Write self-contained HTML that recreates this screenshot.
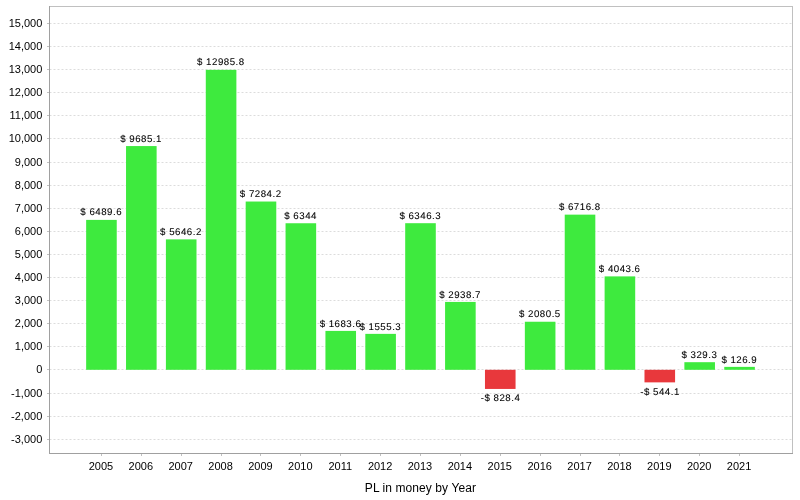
<!DOCTYPE html>
<html><head><meta charset="utf-8"><style>
html,body{margin:0;padding:0;background:#fff;width:800px;height:500px;overflow:hidden;position:relative}
text{font-family:"Liberation Sans",sans-serif;fill:#000}
.t11{font-size:11px;letter-spacing:0.0px}
.t10{font-size:9.7px;text-rendering:geometricPrecision;stroke:#000;stroke-width:0.08px;letter-spacing:0.5px}
.t12{font-size:12px;letter-spacing:0.08px}
</style></head><body>
<svg width="800" height="500" viewBox="0 0 800 500" style="position:absolute;left:0;top:0;will-change:transform">
<rect x="0" y="0" width="800" height="500" fill="#fff"/>
<line x1="49.5" y1="439.5" x2="792.0" y2="439.5" stroke="#dcdcdc" stroke-width="1" stroke-dasharray="2,2"/>
<line x1="49.5" y1="416.5" x2="792.0" y2="416.5" stroke="#dcdcdc" stroke-width="1" stroke-dasharray="2,2"/>
<line x1="49.5" y1="393.5" x2="792.0" y2="393.5" stroke="#dcdcdc" stroke-width="1" stroke-dasharray="2,2"/>
<line x1="49.5" y1="369.5" x2="792.0" y2="369.5" stroke="#dcdcdc" stroke-width="1" stroke-dasharray="2,2"/>
<line x1="49.5" y1="346.5" x2="792.0" y2="346.5" stroke="#dcdcdc" stroke-width="1" stroke-dasharray="2,2"/>
<line x1="49.5" y1="323.5" x2="792.0" y2="323.5" stroke="#dcdcdc" stroke-width="1" stroke-dasharray="2,2"/>
<line x1="49.5" y1="300.5" x2="792.0" y2="300.5" stroke="#dcdcdc" stroke-width="1" stroke-dasharray="2,2"/>
<line x1="49.5" y1="277.5" x2="792.0" y2="277.5" stroke="#dcdcdc" stroke-width="1" stroke-dasharray="2,2"/>
<line x1="49.5" y1="254.5" x2="792.0" y2="254.5" stroke="#dcdcdc" stroke-width="1" stroke-dasharray="2,2"/>
<line x1="49.5" y1="231.5" x2="792.0" y2="231.5" stroke="#dcdcdc" stroke-width="1" stroke-dasharray="2,2"/>
<line x1="49.5" y1="208.5" x2="792.0" y2="208.5" stroke="#dcdcdc" stroke-width="1" stroke-dasharray="2,2"/>
<line x1="49.5" y1="185.5" x2="792.0" y2="185.5" stroke="#dcdcdc" stroke-width="1" stroke-dasharray="2,2"/>
<line x1="49.5" y1="162.5" x2="792.0" y2="162.5" stroke="#dcdcdc" stroke-width="1" stroke-dasharray="2,2"/>
<line x1="49.5" y1="138.5" x2="792.0" y2="138.5" stroke="#dcdcdc" stroke-width="1" stroke-dasharray="2,2"/>
<line x1="49.5" y1="115.5" x2="792.0" y2="115.5" stroke="#dcdcdc" stroke-width="1" stroke-dasharray="2,2"/>
<line x1="49.5" y1="92.5" x2="792.0" y2="92.5" stroke="#dcdcdc" stroke-width="1" stroke-dasharray="2,2"/>
<line x1="49.5" y1="69.5" x2="792.0" y2="69.5" stroke="#dcdcdc" stroke-width="1" stroke-dasharray="2,2"/>
<line x1="49.5" y1="46.5" x2="792.0" y2="46.5" stroke="#dcdcdc" stroke-width="1" stroke-dasharray="2,2"/>
<line x1="49.5" y1="23.5" x2="792.0" y2="23.5" stroke="#dcdcdc" stroke-width="1" stroke-dasharray="2,2"/>
<rect x="86.15" y="219.89" width="30.59" height="149.91" fill="rgb(62,234,62)"/>
<rect x="126.03" y="146.07" width="30.59" height="223.73" fill="rgb(62,234,62)"/>
<rect x="165.91" y="239.37" width="30.59" height="130.43" fill="rgb(62,234,62)"/>
<rect x="205.79" y="69.83" width="30.59" height="299.97" fill="rgb(62,234,62)"/>
<rect x="245.68" y="201.53" width="30.59" height="168.27" fill="rgb(62,234,62)"/>
<rect x="285.56" y="223.25" width="30.59" height="146.55" fill="rgb(62,234,62)"/>
<rect x="325.44" y="330.91" width="30.59" height="38.89" fill="rgb(62,234,62)"/>
<rect x="365.32" y="333.87" width="30.59" height="35.93" fill="rgb(62,234,62)"/>
<rect x="405.20" y="223.20" width="30.59" height="146.60" fill="rgb(62,234,62)"/>
<rect x="445.08" y="301.92" width="30.59" height="67.88" fill="rgb(62,234,62)"/>
<rect x="484.97" y="369.80" width="30.59" height="19.14" fill="rgb(232,56,60)"/>
<rect x="524.85" y="321.74" width="30.59" height="48.06" fill="rgb(62,234,62)"/>
<rect x="564.73" y="214.64" width="30.59" height="155.16" fill="rgb(62,234,62)"/>
<rect x="604.61" y="276.39" width="30.59" height="93.41" fill="rgb(62,234,62)"/>
<rect x="644.49" y="369.80" width="30.59" height="12.57" fill="rgb(232,56,60)"/>
<rect x="684.37" y="362.19" width="30.59" height="7.61" fill="rgb(62,234,62)"/>
<rect x="724.26" y="366.87" width="30.59" height="2.93" fill="rgb(62,234,62)"/>
<rect x="49.5" y="6.5" width="743.0" height="447" fill="none" stroke="#c0c0c0" stroke-width="1"/>
<line x1="49.5" y1="6" x2="49.5" y2="454" stroke="#a0a0a0" stroke-width="1"/>
<line x1="49" y1="453.5" x2="793" y2="453.5" stroke="#a0a0a0" stroke-width="1"/>
<line x1="47" y1="439.5" x2="49" y2="439.5" stroke="#c0c0c0" stroke-width="1"/>
<text x="42.3" y="442.8" text-anchor="end" class="t11">-3,000</text>
<line x1="47" y1="416.5" x2="49" y2="416.5" stroke="#c0c0c0" stroke-width="1"/>
<text x="42.3" y="419.8" text-anchor="end" class="t11">-2,000</text>
<line x1="47" y1="393.5" x2="49" y2="393.5" stroke="#c0c0c0" stroke-width="1"/>
<text x="42.3" y="396.8" text-anchor="end" class="t11">-1,000</text>
<line x1="47" y1="369.5" x2="49" y2="369.5" stroke="#c0c0c0" stroke-width="1"/>
<text x="42.3" y="372.8" text-anchor="end" class="t11">0</text>
<line x1="47" y1="346.5" x2="49" y2="346.5" stroke="#c0c0c0" stroke-width="1"/>
<text x="42.3" y="349.8" text-anchor="end" class="t11">1,000</text>
<line x1="47" y1="323.5" x2="49" y2="323.5" stroke="#c0c0c0" stroke-width="1"/>
<text x="42.3" y="326.8" text-anchor="end" class="t11">2,000</text>
<line x1="47" y1="300.5" x2="49" y2="300.5" stroke="#c0c0c0" stroke-width="1"/>
<text x="42.3" y="303.8" text-anchor="end" class="t11">3,000</text>
<line x1="47" y1="277.5" x2="49" y2="277.5" stroke="#c0c0c0" stroke-width="1"/>
<text x="42.3" y="280.8" text-anchor="end" class="t11">4,000</text>
<line x1="47" y1="254.5" x2="49" y2="254.5" stroke="#c0c0c0" stroke-width="1"/>
<text x="42.3" y="257.8" text-anchor="end" class="t11">5,000</text>
<line x1="47" y1="231.5" x2="49" y2="231.5" stroke="#c0c0c0" stroke-width="1"/>
<text x="42.3" y="234.8" text-anchor="end" class="t11">6,000</text>
<line x1="47" y1="208.5" x2="49" y2="208.5" stroke="#c0c0c0" stroke-width="1"/>
<text x="42.3" y="211.8" text-anchor="end" class="t11">7,000</text>
<line x1="47" y1="185.5" x2="49" y2="185.5" stroke="#c0c0c0" stroke-width="1"/>
<text x="42.3" y="188.8" text-anchor="end" class="t11">8,000</text>
<line x1="47" y1="162.5" x2="49" y2="162.5" stroke="#c0c0c0" stroke-width="1"/>
<text x="42.3" y="165.8" text-anchor="end" class="t11">9,000</text>
<line x1="47" y1="138.5" x2="49" y2="138.5" stroke="#c0c0c0" stroke-width="1"/>
<text x="42.3" y="141.8" text-anchor="end" class="t11">10,000</text>
<line x1="47" y1="115.5" x2="49" y2="115.5" stroke="#c0c0c0" stroke-width="1"/>
<text x="42.3" y="118.8" text-anchor="end" class="t11">11,000</text>
<line x1="47" y1="92.5" x2="49" y2="92.5" stroke="#c0c0c0" stroke-width="1"/>
<text x="42.3" y="95.8" text-anchor="end" class="t11">12,000</text>
<line x1="47" y1="69.5" x2="49" y2="69.5" stroke="#c0c0c0" stroke-width="1"/>
<text x="42.3" y="72.8" text-anchor="end" class="t11">13,000</text>
<line x1="47" y1="46.5" x2="49" y2="46.5" stroke="#c0c0c0" stroke-width="1"/>
<text x="42.3" y="49.8" text-anchor="end" class="t11">14,000</text>
<line x1="47" y1="23.5" x2="49" y2="23.5" stroke="#c0c0c0" stroke-width="1"/>
<text x="42.3" y="26.8" text-anchor="end" class="t11">15,000</text>
<line x1="101.5" y1="454" x2="101.5" y2="456" stroke="#c0c0c0" stroke-width="1"/>
<text x="100.95" y="469.7" text-anchor="middle" class="t11">2005</text>
<text x="101.20" y="215.00" text-anchor="middle" class="t10">$ 6489.6</text>
<line x1="141.5" y1="454" x2="141.5" y2="456" stroke="#c0c0c0" stroke-width="1"/>
<text x="140.83" y="469.7" text-anchor="middle" class="t11">2006</text>
<text x="141.08" y="142.00" text-anchor="middle" class="t10">$ 9685.1</text>
<line x1="181.5" y1="454" x2="181.5" y2="456" stroke="#c0c0c0" stroke-width="1"/>
<text x="180.71" y="469.7" text-anchor="middle" class="t11">2007</text>
<text x="180.96" y="235.00" text-anchor="middle" class="t10">$ 5646.2</text>
<line x1="221.5" y1="454" x2="221.5" y2="456" stroke="#c0c0c0" stroke-width="1"/>
<text x="220.59" y="469.7" text-anchor="middle" class="t11">2008</text>
<text x="220.84" y="65.00" text-anchor="middle" class="t10">$ 12985.8</text>
<line x1="260.5" y1="454" x2="260.5" y2="456" stroke="#c0c0c0" stroke-width="1"/>
<text x="260.47" y="469.7" text-anchor="middle" class="t11">2009</text>
<text x="260.72" y="197.00" text-anchor="middle" class="t10">$ 7284.2</text>
<line x1="300.5" y1="454" x2="300.5" y2="456" stroke="#c0c0c0" stroke-width="1"/>
<text x="300.36" y="469.7" text-anchor="middle" class="t11">2010</text>
<text x="300.61" y="219.00" text-anchor="middle" class="t10">$ 6344</text>
<line x1="340.5" y1="454" x2="340.5" y2="456" stroke="#c0c0c0" stroke-width="1"/>
<text x="340.24" y="469.7" text-anchor="middle" class="t11">2011</text>
<text x="340.49" y="327.00" text-anchor="middle" class="t10">$ 1683.6</text>
<line x1="380.5" y1="454" x2="380.5" y2="456" stroke="#c0c0c0" stroke-width="1"/>
<text x="380.12" y="469.7" text-anchor="middle" class="t11">2012</text>
<text x="380.37" y="330.00" text-anchor="middle" class="t10">$ 1555.3</text>
<line x1="420.5" y1="454" x2="420.5" y2="456" stroke="#c0c0c0" stroke-width="1"/>
<text x="420.00" y="469.7" text-anchor="middle" class="t11">2013</text>
<text x="420.25" y="219.00" text-anchor="middle" class="t10">$ 6346.3</text>
<line x1="460.5" y1="454" x2="460.5" y2="456" stroke="#c0c0c0" stroke-width="1"/>
<text x="459.88" y="469.7" text-anchor="middle" class="t11">2014</text>
<text x="460.13" y="298.00" text-anchor="middle" class="t10">$ 2938.7</text>
<line x1="500.5" y1="454" x2="500.5" y2="456" stroke="#c0c0c0" stroke-width="1"/>
<text x="499.76" y="469.7" text-anchor="middle" class="t11">2015</text>
<text x="500.51" y="401.00" text-anchor="middle" class="t10">-$ 828.4</text>
<line x1="540.5" y1="454" x2="540.5" y2="456" stroke="#c0c0c0" stroke-width="1"/>
<text x="539.64" y="469.7" text-anchor="middle" class="t11">2016</text>
<text x="539.89" y="317.00" text-anchor="middle" class="t10">$ 2080.5</text>
<line x1="580.5" y1="454" x2="580.5" y2="456" stroke="#c0c0c0" stroke-width="1"/>
<text x="579.53" y="469.7" text-anchor="middle" class="t11">2017</text>
<text x="579.78" y="210.00" text-anchor="middle" class="t10">$ 6716.8</text>
<line x1="619.5" y1="454" x2="619.5" y2="456" stroke="#c0c0c0" stroke-width="1"/>
<text x="619.41" y="469.7" text-anchor="middle" class="t11">2018</text>
<text x="619.66" y="272.00" text-anchor="middle" class="t10">$ 4043.6</text>
<line x1="659.5" y1="454" x2="659.5" y2="456" stroke="#c0c0c0" stroke-width="1"/>
<text x="659.29" y="469.7" text-anchor="middle" class="t11">2019</text>
<text x="660.04" y="395.00" text-anchor="middle" class="t10">-$ 544.1</text>
<line x1="699.5" y1="454" x2="699.5" y2="456" stroke="#c0c0c0" stroke-width="1"/>
<text x="699.17" y="469.7" text-anchor="middle" class="t11">2020</text>
<text x="699.42" y="358.00" text-anchor="middle" class="t10">$ 329.3</text>
<line x1="739.5" y1="454" x2="739.5" y2="456" stroke="#c0c0c0" stroke-width="1"/>
<text x="739.05" y="469.7" text-anchor="middle" class="t11">2021</text>
<text x="739.30" y="363.00" text-anchor="middle" class="t10">$ 126.9</text>
<text x="420.4" y="491.6" text-anchor="middle" class="t12">PL in money by Year</text>
</svg>
</body></html>
